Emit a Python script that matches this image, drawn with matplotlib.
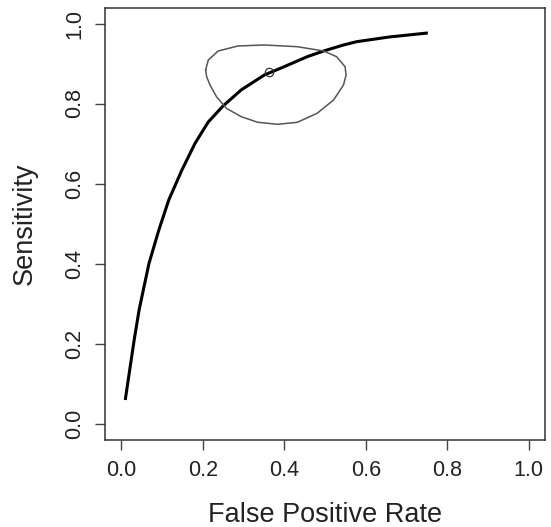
import matplotlib
matplotlib.use("Agg")
import matplotlib.pyplot as plt

# SROC curve points (False positive rate, Sensitivity)
curve_fpr = [0.0097, 0.0194, 0.0316, 0.0437, 0.0558, 0.0680, 0.0922, 0.1165,
             0.1488, 0.1813, 0.2136, 0.2500, 0.2944, 0.3512, 0.3998, 0.4563,
             0.4968, 0.5454, 0.5777, 0.6578, 0.7524]
curve_sens = [0.0588, 0.1255, 0.2088, 0.2838, 0.3420, 0.4005, 0.4838, 0.5588,
              0.6338, 0.7010, 0.7540, 0.7940, 0.8340, 0.8713, 0.8920, 0.9170,
              0.9313, 0.9463, 0.9545, 0.9663, 0.9763]

# Summary point
point_fpr = [0.3617]
point_sens = [0.878]

# Confidence region outline
region_fpr = [0.2070, 0.2136, 0.2379, 0.2864, 0.3512, 0.4320, 0.4968, 0.5284,
              0.5493, 0.5517, 0.5454, 0.5211, 0.4806, 0.4320, 0.3835, 0.3350,
              0.2944, 0.2580, 0.2337, 0.2177, 0.2095, 0.2070]
region_sens = [0.8838, 0.9088, 0.9313, 0.9438, 0.9463, 0.9420, 0.9313, 0.9170,
               0.8920, 0.8713, 0.8463, 0.8088, 0.7755, 0.7530, 0.7480, 0.7530,
               0.7670, 0.7880, 0.8170, 0.8463, 0.8670, 0.8838]

x_ticks = [0.0, 0.2, 0.4, 0.6, 0.8, 1.0]
y_ticks = [0.0, 0.2, 0.4, 0.6, 0.8, 1.0]
x_label = "False Positive Rate"
y_label = "Sensitivity"

plt.rcParams['font.family'] = ['Liberation Sans', 'DejaVu Sans']

fig = plt.figure(figsize=(5.51, 5.27), dpi=100)
ax = fig.add_axes([105 / 551, (527 - 439.5) / 527, 440 / 551, 432 / 527])

ax.plot(curve_fpr, curve_sens, color='black', lw=2.2, solid_capstyle='butt',
        solid_joinstyle='round')
ax.plot(region_fpr, region_sens, color='#555555', lw=1.1, solid_joinstyle='round')
ax.plot(point_fpr, point_sens, marker='o', mfc='none', mec='#333333',
        ms=6, mew=0.9, ls='none')

ax.set_xlim(-0.04, 1.04)
ax.set_ylim(-0.04, 1.04)
ax.set_xticks(x_ticks)
ax.set_yticks(y_ticks)
ax.set_xticklabels([f"{v:.1f}" for v in x_ticks])
ax.set_yticklabels([f"{v:.1f}" for v in y_ticks], rotation=90, va='center')
ax.tick_params(axis='both', direction='out', length=7, width=1.0,
               labelsize=15.5, colors='#444444', labelcolor='#222222')
ax.tick_params(axis='x', pad=8)
ax.tick_params(axis='y', pad=7)
for s in ax.spines.values():
    s.set_color('#333333')
    s.set_linewidth(1.1)

ax.set_xlabel(x_label, fontsize=19.5, color='#222222', labelpad=15)
ax.set_ylabel(y_label, fontsize=19.5, color='#222222', labelpad=19)

fig.savefig("out.png", dpi=100)
